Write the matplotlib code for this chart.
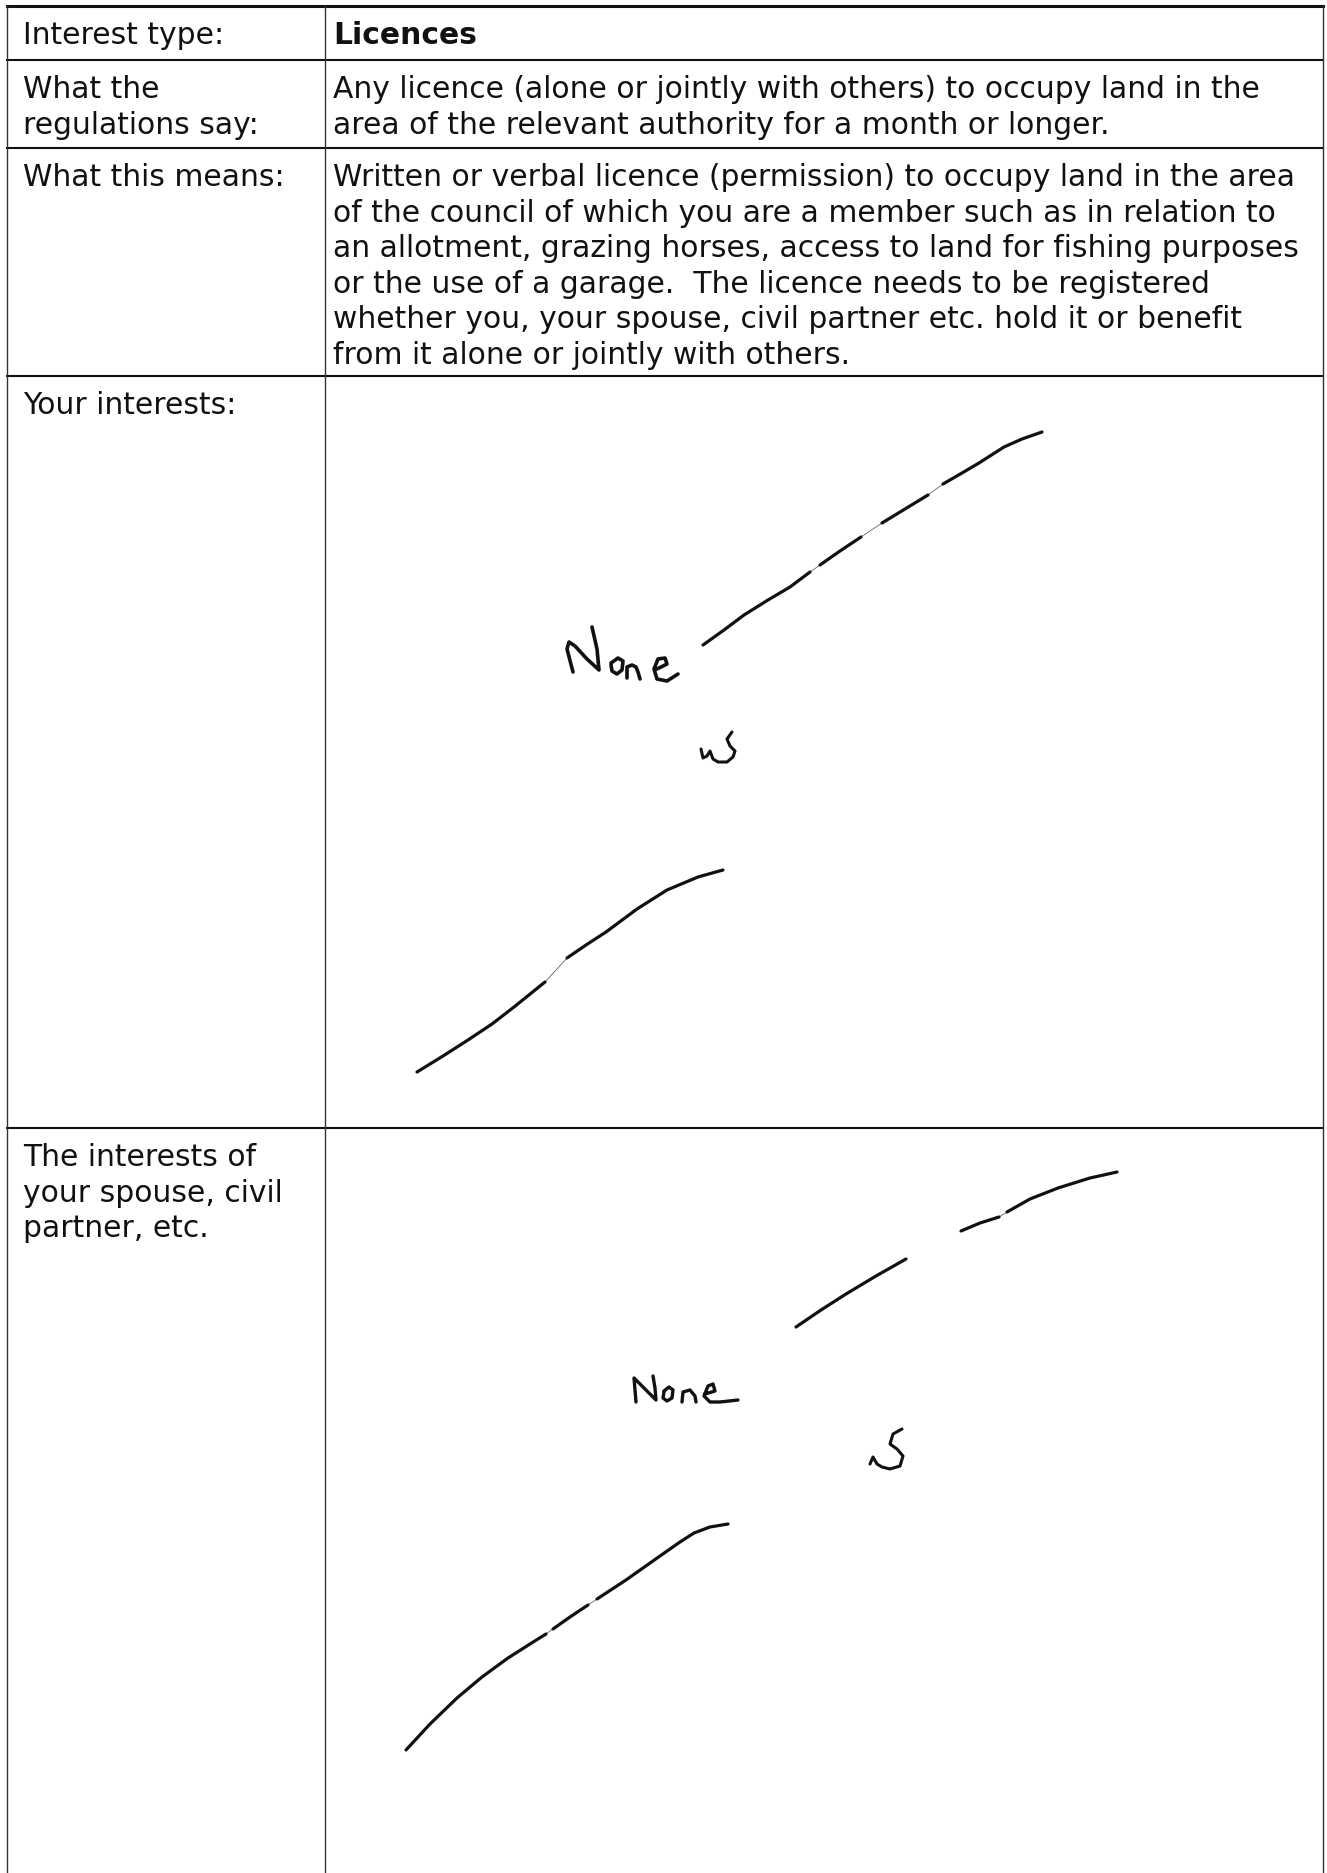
import numpy as np
import matplotlib
matplotlib.use('Agg')
import matplotlib.pyplot as plt

#printed text of the form, left column and right column, one entry per line
rowLabels = [['Interest type:'],
             ['What the', 'regulations say:'],
             ['What this means:'],
             ['Your interests:'],
             ['The interests of', 'your spouse, civil', 'partner, etc.']]
rowTexts = [['Licences'],
            ['Any licence (alone or jointly with others) to occupy land in the',
             'area of the relevant authority for a month or longer.'],
            ['Written or verbal licence (permission) to occupy land in the area',
             'of the council of which you are a member such as in relation to',
             'an allotment, grazing horses, access to land for fishing purposes',
             'or the use of a garage.  The licence needs to be registered',
             'whether you, your spouse, civil partner etc. hold it or benefit',
             'from it alone or jointly with others.'],
            [],
            []]
boldRows = [0]

#handwritten strokes (page pixels, x then y), each list is one pen piece
yourStrokesX = [[703, 724, 744, 768, 790, 810],
                [820, 840, 861],
                [882, 905, 928],
                [943, 962, 979, 1004, 1022, 1042],
                [417, 443, 468, 492, 514, 545],
                [567, 586, 606, 637, 667, 698, 723]]
yourStrokesY = [[646, 631, 616, 601, 588, 573],
                [566, 552, 538],
                [524, 510, 496],
                [485, 474, 464, 448, 440, 433],
                [1073, 1057, 1041, 1025, 1008, 983],
                [959, 946, 933, 910, 891, 878, 871]]
#pieces that belong to one pen line (the scan left faint traces in the gaps)
yourGroups = [[0, 1, 2, 3], [4, 5]]
spouseStrokesX = [[796, 821, 846, 876, 906],
                  [961, 980, 999],
                  [1007, 1030, 1058, 1090, 1117],
                  [406, 430, 457, 482, 508, 530, 546],
                  [553, 570, 588],
                  [597, 626, 660, 680, 694, 710, 728]]
spouseStrokesY = [[1328, 1311, 1295, 1277, 1260],
                  [1232, 1224, 1218],
                  [1213, 1200, 1189, 1179, 1173],
                  [1751, 1725, 1699, 1678, 1659, 1645, 1635],
                  [1630, 1618, 1606],
                  [1600, 1581, 1557, 1543, 1534, 1528, 1525]]
spouseGroups = [[0], [1, 2], [3, 4, 5]]

#handwritten "None" and initials, one list per pen stroke
noneOneX = [[573, 567, 569, 575, 587, 599, 597, 592],
            [611, 612, 617, 622, 623, 618, 611],
            [627, 627, 632, 636, 638, 640],
            [657, 667, 665, 658, 654, 657, 667, 678]]
noneOneY = [[673, 650, 643, 647, 660, 671, 650, 628],
            [666, 672, 675, 671, 662, 659, 664],
            [679, 668, 666, 668, 673, 680],
            [670, 665, 659, 660, 670, 680, 682, 675]]
initialsOneX = [701, 703, 707, 710, 713, 718, 727, 733, 735, 730, 727, 732]
initialsOneY = [750, 759, 757, 752, 760, 763, 763, 758, 752, 747, 740, 733]
noneTwoX = [[636, 634, 645, 656, 655, 653],
            [664, 663, 667, 672, 673, 669, 664],
            [682, 683, 690, 695, 696],
            [705, 715, 713, 708, 704, 710, 720, 738]]
noneTwoY = [[1403, 1379, 1390, 1401, 1389, 1377],
            [1393, 1399, 1402, 1399, 1391, 1388, 1392],
            [1403, 1393, 1391, 1397, 1403],
            [1395, 1392, 1385, 1387, 1397, 1403, 1403, 1401]]
initialsTwoX = [870, 873, 877, 882, 890, 900, 903, 897, 890, 893, 902]
initialsTwoY = [1465, 1458, 1465, 1468, 1470, 1467, 1457, 1450, 1445, 1435, 1430]

#page layout in pixels
pageW, pageH = 1327, 1874
leftX, midX, rightX = 7, 325, 1323
rowEdges = [7, 61, 149, 377, 1129]
leftTextX, rightTextX = 23, 333
firstBaseline = 37.5
lineStep = 35.4
inkColor = '#111111'


def fitFontSize(fig, ax, sample, targetWidth):
    #scale a trial size so the sample line spans the same width as the scan
    renderer = fig.canvas.get_renderer()
    trial = ax.text(0, 0, sample, fontsize=20, family='DejaVu Sans')
    width = trial.get_window_extent(renderer).width
    trial.remove()
    return 20 * targetWidth / width


def drawPieces(ax, xs, ys, lw, groups=None):
    #faint trace under the broken pen lines first
    if groups is not None:
        for g in groups:
            gx = np.concatenate([xs[i] for i in g])
            gy = np.concatenate([ys[i] for i in g])
            ax.plot(gx, gy, color='#666666', lw=0.6)
    for px, py in zip(xs, ys):
        ax.plot(px, py, color=inkColor, lw=lw, solid_capstyle='round',
                solid_joinstyle='round')


def run():
    fig = plt.figure(figsize=(pageW / 100, pageH / 100), dpi=100)
    ax = fig.add_axes([0, 0, 1, 1])
    ax.set_xlim(0, pageW)
    ax.set_ylim(pageH, 0)
    ax.axis('off')

    fontSize = fitFontSize(fig, ax, rowTexts[2][0], 1295 - rightTextX)

    #table rules: heavy top, horizontal row lines, thinner verticals
    ax.plot([leftX, rightX], [rowEdges[0], rowEdges[0]], color=inkColor, lw=2.2)
    for y in rowEdges[1:]:
        ax.plot([leftX, rightX], [y, y], color=inkColor, lw=1.5)
    for x in [leftX, midX, rightX]:
        ax.plot([x, x], [rowEdges[0], pageH], color='#333333', lw=1.0)

    #printed text
    for i in range(len(rowLabels)):
        top = rowEdges[i]
        for j, line in enumerate(rowLabels[i]):
            ax.text(leftTextX, top + firstBaseline + j * lineStep, line,
                    fontsize=fontSize, family='DejaVu Sans', color=inkColor,
                    va='baseline', ha='left')
        weight = 'bold' if i in boldRows else 'normal'
        for j, line in enumerate(rowTexts[i]):
            ax.text(rightTextX, top + firstBaseline + j * lineStep, line,
                    fontsize=fontSize, family='DejaVu Sans', color=inkColor,
                    weight=weight, va='baseline', ha='left')

    #handwriting
    drawPieces(ax, yourStrokesX, yourStrokesY, 2.3, yourGroups)
    drawPieces(ax, spouseStrokesX, spouseStrokesY, 2.3, spouseGroups)
    drawPieces(ax, noneOneX, noneOneY, 2.6)
    drawPieces(ax, noneTwoX, noneTwoY, 2.4)
    drawPieces(ax, [initialsOneX], [initialsOneY], 2.2)
    drawPieces(ax, [initialsTwoX], [initialsTwoY], 2.2)

    fig.savefig('out.png', dpi=100, facecolor='white')
    return 1


run()
